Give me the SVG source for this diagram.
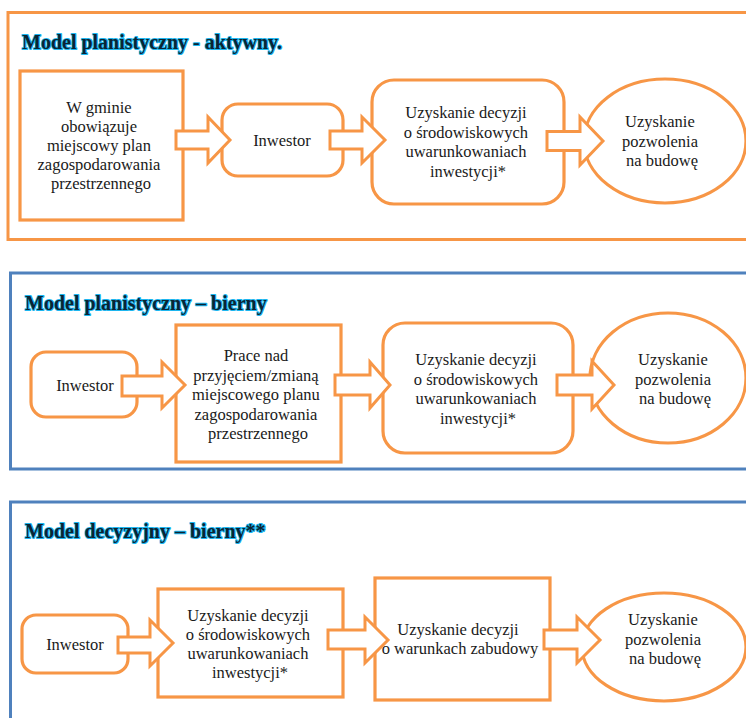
<svg xmlns="http://www.w3.org/2000/svg" width="746" height="718" viewBox="0 0 746 718">
  <defs>
    <style>
      .frame-o { fill: none; stroke: #F79646; stroke-width: 3; }
      .frame-b { fill: none; stroke: #4F81BD; stroke-width: 3; }
      .node { fill: #FFFFFF; stroke: #F79646; stroke-width: 3.2; }
      .arrow { fill: #FFFFFF; stroke: #F79646; stroke-width: 3; stroke-linejoin: miter; }
      .title { font-weight: bold; font-size: 20px; fill: #0B2433; stroke: #1DB6EF; stroke-width: 2; paint-order: stroke; stroke-linejoin: round; }
      .lbl { font-size: 16.5px; fill: #1A1A1A; text-anchor: middle; }
    </style>
  </defs>
  <rect width="746" height="718" fill="#FFFFFF"/>

  <g font-family="'Liberation Serif', 'DejaVu Serif', serif">
  <!-- Panel 1: active planning model -->
  <g id="panel-1">
    <rect class="frame-o" x="8" y="12.5" width="760" height="227"/>
    <text class="title" x="22" y="49">Model planistyczny - aktywny.</text>
  </g>
  <g id="p1-plan">
    <rect class="node" x="20" y="71" width="163" height="149"/>
    <text class="lbl">
      <tspan x="101" y="113">W gminie</tspan>
      <tspan x="101" y="132">obowiązuje</tspan>
      <tspan x="101" y="151">miejscowy plan</tspan>
      <tspan x="101" y="170">zagospodarowania</tspan>
      <tspan x="101" y="189">przestrzennego</tspan>
    </text>
  </g>
  <g id="p1-inwestor">
    <rect class="node" x="222" y="104" width="121" height="72" rx="16"/>
    <text class="lbl" x="282" y="146">Inwestor</text>
  </g>
  <g id="p1-srodowiskowe">
    <rect class="node" x="372" y="80" width="192" height="124" rx="22"/>
    <text class="lbl">
      <tspan x="468" y="118">Uzyskanie decyzji</tspan>
      <tspan x="468" y="137.5">o środowiskowych</tspan>
      <tspan x="468" y="157">uwarunkowaniach</tspan>
      <tspan x="468" y="176.5">inwestycji*</tspan>
    </text>
  </g>
  <g id="p1-pozwolenie">
    <ellipse class="node" cx="665" cy="141" rx="81" ry="62"/>
    <text class="lbl">
      <tspan x="662" y="127">Uzyskanie</tspan>
      <tspan x="662" y="146.5">pozwolenia</tspan>
      <tspan x="662" y="166">na budowę</tspan>
    </text>
  </g>

  <!-- Panel 2: passive planning model -->
  <g id="panel-2">
    <rect class="frame-b" x="10.5" y="273" width="760" height="196"/>
    <text class="title" x="25" y="310">Model planistyczny – bierny</text>
  </g>
  <g id="p2-inwestor">
    <rect class="node" x="31" y="352" width="106" height="65" rx="15"/>
    <text class="lbl" x="85" y="391">Inwestor</text>
  </g>
  <g id="p2-prace">
    <rect class="node" x="176" y="325" width="165" height="137"/>
    <text class="lbl">
      <tspan x="258" y="361">Prace nad</tspan>
      <tspan x="258" y="380.5">przyjęciem/zmianą</tspan>
      <tspan x="258" y="400">miejscowego planu</tspan>
      <tspan x="258" y="419.5">zagospodarowania</tspan>
      <tspan x="258" y="439">przestrzennego</tspan>
    </text>
  </g>
  <g id="p2-srodowiskowe">
    <rect class="node" x="383" y="323" width="190" height="130" rx="22"/>
    <text class="lbl">
      <tspan x="478" y="365">Uzyskanie decyzji</tspan>
      <tspan x="478" y="384.5">o środowiskowych</tspan>
      <tspan x="478" y="404">uwarunkowaniach</tspan>
      <tspan x="478" y="423.5">inwestycji*</tspan>
    </text>
  </g>
  <g id="p2-pozwolenie">
    <ellipse class="node" cx="668" cy="378" rx="78" ry="65"/>
    <text class="lbl">
      <tspan x="675" y="365">Uzyskanie</tspan>
      <tspan x="675" y="384.5">pozwolenia</tspan>
      <tspan x="675" y="404">na budowę</tspan>
    </text>
  </g>

  <!-- Panel 3: passive decision model -->
  <g id="panel-3">
    <rect class="frame-b" x="10.5" y="502" width="760" height="240"/>
    <text class="title" x="25" y="538">Model decyzyjny – bierny**</text>
  </g>
  <g id="p3-inwestor">
    <rect class="node" x="22" y="615" width="106" height="58" rx="14"/>
    <text class="lbl" x="75" y="650">Inwestor</text>
  </g>
  <g id="p3-srodowiskowe">
    <rect class="node" x="158" y="589" width="185" height="108"/>
    <text class="lbl">
      <tspan x="250" y="621">Uzyskanie decyzji</tspan>
      <tspan x="250" y="640">o środowiskowych</tspan>
      <tspan x="250" y="659">uwarunkowaniach</tspan>
      <tspan x="250" y="678">inwestycji*</tspan>
    </text>
  </g>
  <g id="p3-warunki">
    <rect class="node" x="375" y="578" width="175" height="122"/>
    <text class="lbl">
      <tspan x="460" y="635">Uzyskanie decyzji</tspan>
      <tspan x="460" y="654">o warunkach zabudowy</tspan>
    </text>
  </g>
  <g id="p3-pozwolenie">
    <ellipse class="node" cx="664" cy="647" rx="82" ry="54"/>
    <text class="lbl">
      <tspan x="665" y="625">Uzyskanie</tspan>
      <tspan x="665" y="644.5">pozwolenia</tspan>
      <tspan x="665" y="664">na budowę</tspan>
    </text>
  </g>
  </g>

  <!-- Block arrows between steps -->
  <g id="connectors">
    <!-- panel 1 -->
    <path class="arrow" d="M176,131 H208 V117 L230,140 L208,163 V149 H176 Z"/>
    <path class="arrow" d="M330,131 H362 V117 L385,140 L362,163 V149 H330 Z"/>
    <path class="arrow" d="M547,131.5 H580 V117 L603,141 L580,165 V150.5 H547 Z"/>
    <!-- panel 2 -->
    <path class="arrow" d="M122,376 H162 V362 L185,385 L162,408 V396 H122 Z"/>
    <path class="arrow" d="M335,375 H370 V362 L390,385 L370,408 V395 H335 Z"/>
    <path class="arrow" d="M557,375 H592 V361 L614,385 L592,409 V395 H557 Z"/>
    <!-- panel 3 -->
    <path class="arrow" d="M118,637 H150 V620 L173,643 L150,666 V653 H118 Z"/>
    <path class="arrow" d="M328,630 H365 V617 L388,640 L365,663 V649 H328 Z"/>
    <path class="arrow" d="M544,630 H577 V617 L600,640 L577,663 V649 H544 Z"/>
  </g>
</svg>
